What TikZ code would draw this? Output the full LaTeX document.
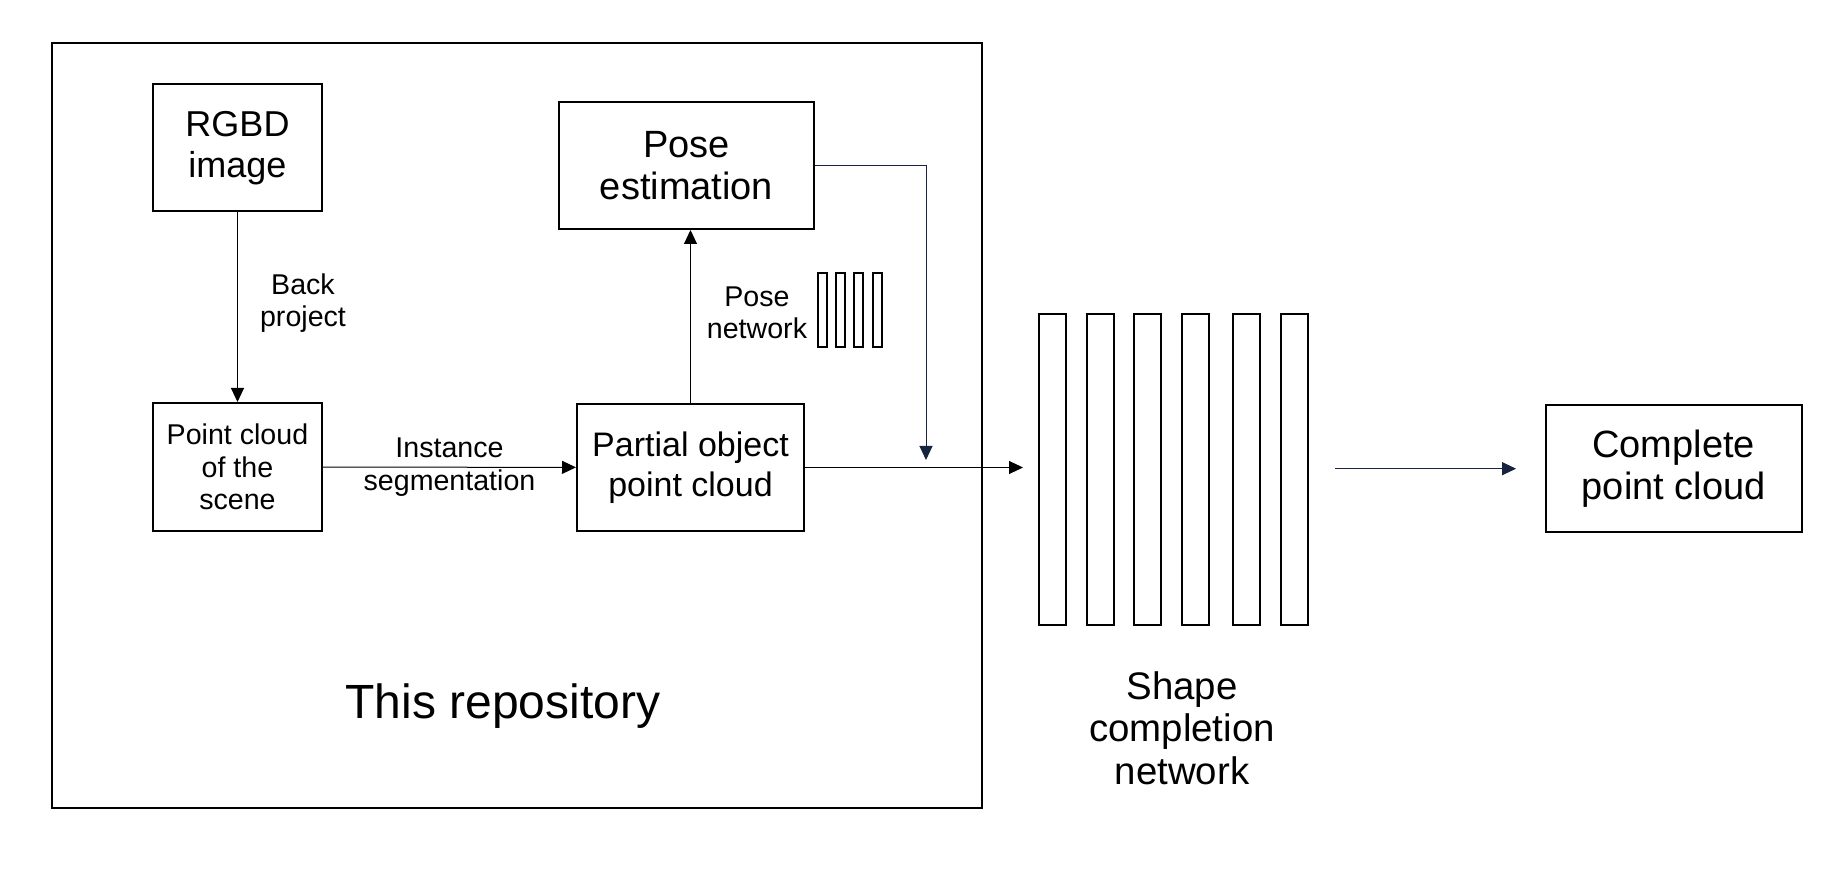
\documentclass[tikz,border=0pt]{standalone}
\usepackage{fontspec}
\setmainfont{Liberation Sans}
\usepackage{tikz}
\usetikzlibrary{arrows.meta}

\definecolor{linknavy}{HTML}{17243F}

\tikzset{
  box/.style={draw, line width=1pt, inner sep=0pt, align=center},
  bigtext/.style={font=\fontsize{19}{21}\selectfont},
  midtext/.style={font=\fontsize{17}{20}\selectfont},
  smalltext/.style={font=\fontsize{14.3}{16.2}\selectfont, align=center, inner sep=0pt},
  layer/.style={draw, line width=1pt},
  link/.style={-{Triangle[length=7pt,width=6.5pt]}, line width=0.5pt}
}

\begin{document}
\begin{tikzpicture}[x=0.5pt, y=-0.5pt]
    \useasboundingbox (0,0) rectangle (1838,892);

    % Frame of the repository part
    \draw[line width=1pt] (52,43) rectangle (982,808);
    \node[font=\fontsize{24}{28}\selectfont] (repo) at (503,706) {This repository};

    % Boxes
    \node[box, font=\fontsize{18}{20.5}\selectfont, minimum width=84.5pt, minimum height=63.5pt] (rgbd) at (237.5,148) {RGBD\\image};
    \node[box, smalltext, minimum width=84.5pt, minimum height=64pt] (scene) at (237.5,467) {Point cloud\\of the\\scene};
    \node[box, midtext, minimum width=113.5pt, minimum height=63.5pt] (partial) at (690.5,467.5) {Partial object\\point cloud};
    \node[box, bigtext, minimum width=127.5pt, minimum height=63.5pt] (pose) at (686.5,165.5) {Pose\\estimation};
    \node[box, bigtext, minimum width=128pt, minimum height=63.5pt] (complete) at (1673.7,468.7) {Complete\\point cloud};

    % Pose network layers
    \foreach \i in {0,...,3} {
      \draw[layer] ({817.7+18.3*\i},273) rectangle +(9,74);
    }
    \node[smalltext] (poselbl) at (757,313) {Pose\\network};

    % Shape completion layers
    \foreach \x in {1038.6,1086.6,1133.5,1181.6,1233.2,1281.3} {
      \draw[layer] (\x,314) rectangle +(27,311);
    }
    \node[font=\fontsize{19.2}{21.3}\selectfont, align=center] (shapelbl) at (1182,728) {Shape\\completion\\network};

    % Connectors
    \draw[link] (rgbd) -- (scene);
    \node[smalltext] (backlbl) at (303,303) {Back\\project};
    \draw[link] (scene) -- (partial) node[smalltext, midway] (seglbl) {Instance\\segmentation};
    \draw[link] (partial.north) -- (partial.north |- pose.south);

    \coordinate (merge) at (926,460);
    \coordinate (shapein) at (1023,467.5);
    \coordinate (shapeout) at (1335,468.7);
    \draw[link, draw=linknavy] (pose.east) -| (merge);
    \draw[link] (partial.east) -- (shapein);
    \draw[link, draw=linknavy] (shapeout) -- ([xshift=-14.3pt]complete.west);
\end{tikzpicture}
\end{document}
